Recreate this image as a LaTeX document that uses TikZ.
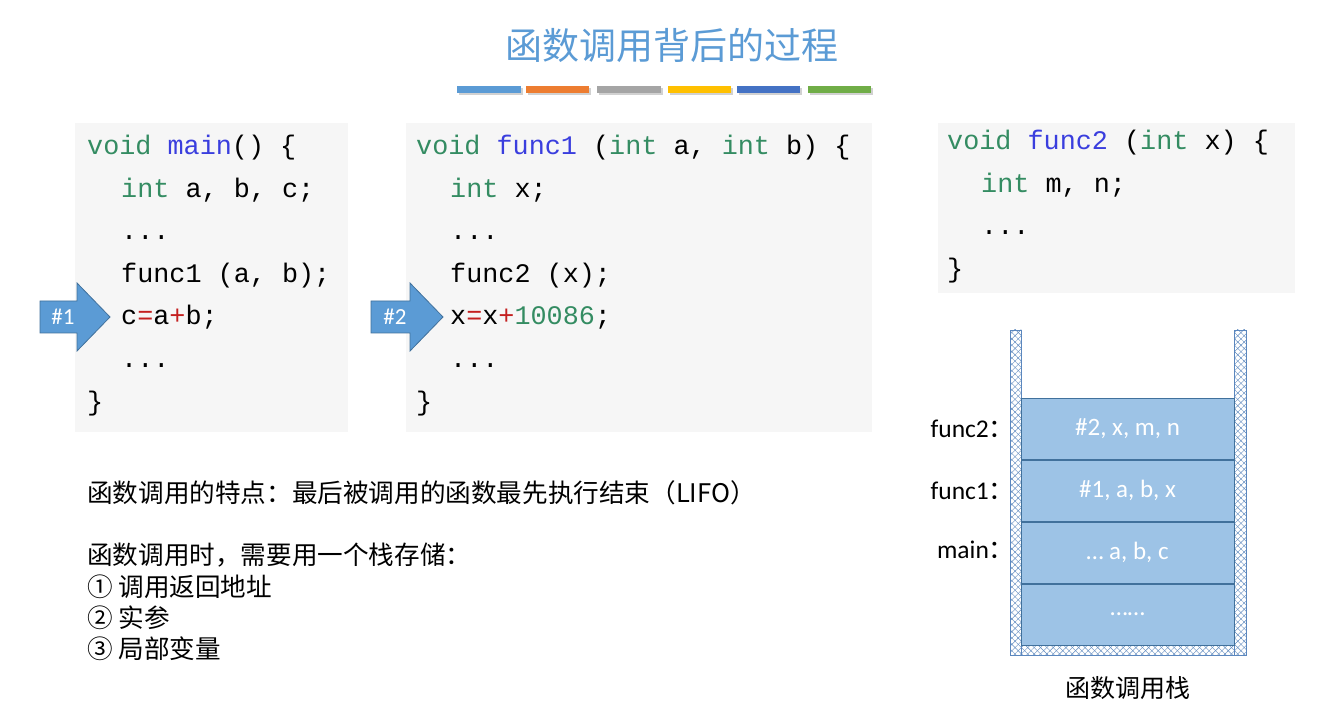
\documentclass[tikz,border=0pt]{standalone}
\usepackage{fontspec}
\setmainfont{Carlito}
\newfontfamily\cjk{Noto Sans CJK SC}
\newfontfamily\codefont{Liberation Mono}
\usetikzlibrary{positioning, patterns.meta}
\definecolor{TB}{RGB}{91,155,213}
\definecolor{BO}{RGB}{237,125,49}
\definecolor{BG}{RGB}{165,165,165}
\definecolor{BY}{RGB}{255,192,0}
\definecolor{BD}{RGB}{68,114,196}
\definecolor{BL}{RGB}{112,173,71}
\definecolor{KW}{RGB}{52,140,98}
\definecolor{FN}{RGB}{58,62,222}
\definecolor{OP}{RGB}{196,32,32}
\definecolor{CB}{RGB}{246,246,246}
\definecolor{AB}{RGB}{65,113,156}
\definecolor{SC}{RGB}{157,195,230}
\definecolor{SL}{RGB}{65,113,156}
\definecolor{WB}{RGB}{91,135,190}
\newcommand{\kwd}[1]{\textcolor{KW}{#1}}
\newcommand{\fnc}[1]{\textcolor{FN}{#1}}
\newcommand{\opr}[1]{\textcolor{OP}{#1}}

\begin{document}
\begin{tikzpicture}[
  x=1pt, y=-1pt,
  code/.style={anchor=base west, inner sep=0, font=\codefont\fontsize{26.8}{30}\selectfont},
  cbox/.style={fill=CB},
  marker/.style={fill=TB, draw=AB, line width=0.8pt},
  mlbl/.style={text=white, font=\fontsize{23}{25}\selectfont},
  txt/.style={anchor=west, inner sep=0, font=\cjk\fontsize{25.6}{28}\selectfont},
  cell/.style={draw=SL, fill=SC, line width=0.8pt, minimum width=213pt, minimum height=61pt,
    inner sep=0, text=white, font=\fontsize{25}{28}\selectfont},
  slbl/.style={inner sep=0, font=\fontsize{25.5}{28}\selectfont},
  wall/.style={draw=WB, line width=0.8pt, pattern={Lines[angle=45,distance=4.5pt,line width=0.4pt]}, pattern color=WB},
  wallx/.style={pattern={Lines[angle=-45,distance=4.5pt,line width=0.4pt]}, pattern color=WB}
]
\useasboundingbox (0,0) rectangle (1338,708);
\fill[white] (0,0) rectangle (1338,708);

% Title and colour bars
\node[text=TB, font=\cjk\fontsize{37}{40}\selectfont] (title) at (672,45) {函数调用背后的过程};
\foreach \xa/\xb/\c in {457/521/TB, 526/589/BO, 597/661/BG, 668/731/BY, 737/800/BD, 808/871/BL} {
  \fill[black!18] (\xa+1.5,88.5) rectangle (\xb+1.5,95.5);
  \fill[\c] (\xa,86) rectangle (\xb,93);
}

% Code of main
\fill[cbox] (75,123) rectangle (348,432);
\node[code] (m1) at (87,155)    {\kwd{void} \fnc{main}() \{};
\node[code] (m2) at (121,197.5) {\kwd{int} a, b, c;};
\node[code] (m3) at (121,240)   {...};
\node[code] (m4) at (121,282.5) {func1 (a, b);};
\node[code] (m5) at (121,325)   {c\opr{=}a\opr{+}b;};
\node[code] (m6) at (121,367.5) {...};
\node[code] (m7) at (87,410)    {\}};

% Code of func1
\fill[cbox] (406,123) rectangle (872,432);
\node[code] (a1) at (416,155)   {\kwd{void} \fnc{func1} (\kwd{int} a, \kwd{int} b) \{};
\node[code] (a2) at (450,197.5) {\kwd{int} x;};
\node[code] (a3) at (450,240)   {...};
\node[code] (a4) at (450,282.5) {func2 (x);};
\node[code] (a5) at (450,325)   {x\opr{=}x\opr{+}\kwd{10086};};
\node[code] (a6) at (450,367.5) {...};
\node[code] (a7) at (416,410)   {\}};

% Code of func2
\fill[cbox] (938,123) rectangle (1295,293);
\node[code] (b1) at (947,150)   {\kwd{void} \fnc{func2} (\kwd{int} x) \{};
\node[code] (b2) at (981,192.5) {\kwd{int} m, n;};
\node[code] (b3) at (981,235)   {...};
\node[code] (b4) at (947,277.5) {\}};

% Return markers
\draw[marker] (40,301) -- (77,301) -- (77,283) -- (110,317) -- (77,351) -- (77,333) -- (40,333) -- cycle;
\node[mlbl] (r1) at (63,317) {\#1};
\draw[marker] (371,301) -- (410,301) -- (410,283) -- (443,317) -- (410,351) -- (410,333) -- (371,333) -- cycle;
\node[mlbl] (r2) at (395,317) {\#2};

% Notes
\node[txt] (t1) at (87,493) {函数调用的特点：最后被调用的函数最先执行结束（LIFO）};
\node[txt] (t2) at (87,555) {函数调用时，需要用一个栈存储：};
\node[txt] (t3) at (87,587) {① 调用返回地址};
\node[txt] (t4) at (87,618) {② 实参};
\node[txt] (t5) at (87,649) {③ 局部变量};

% Stack walls
\foreach \xa/\ya/\xb/\yb in {1010/330/1021/655, 1234/330/1246/655, 1021/643/1234/655} {
  \fill[white] (\xa,\ya) rectangle (\xb,\yb);
  \path[wallx] (\xa,\ya) rectangle (\xb,\yb);
  \draw[wall] (\xa,\ya) rectangle (\xb,\yb);
}

% Stack frames
\node[cell] (s2) at (1127.5,429) {\#2, x, m, n};
\node[cell, below=0pt of s2] (s1) {\#1, a, b, x};
\node[cell, below=0pt of s1] (s0) {… a, b, c};
\node[cell, below=0pt of s0] (sb) {……};

\node[slbl, left=6pt of s2] (l2) {func2{\cjk ：}};
\node[slbl, left=6pt of s1] (l1) {func1{\cjk ：}};
\node[slbl, left=6pt of s0, yshift=3pt] (l0) {main{\cjk ：}};

\node[font=\cjk\fontsize{25}{28}\selectfont] (cap) at (1128,688) {函数调用栈};
\end{tikzpicture}
\end{document}
